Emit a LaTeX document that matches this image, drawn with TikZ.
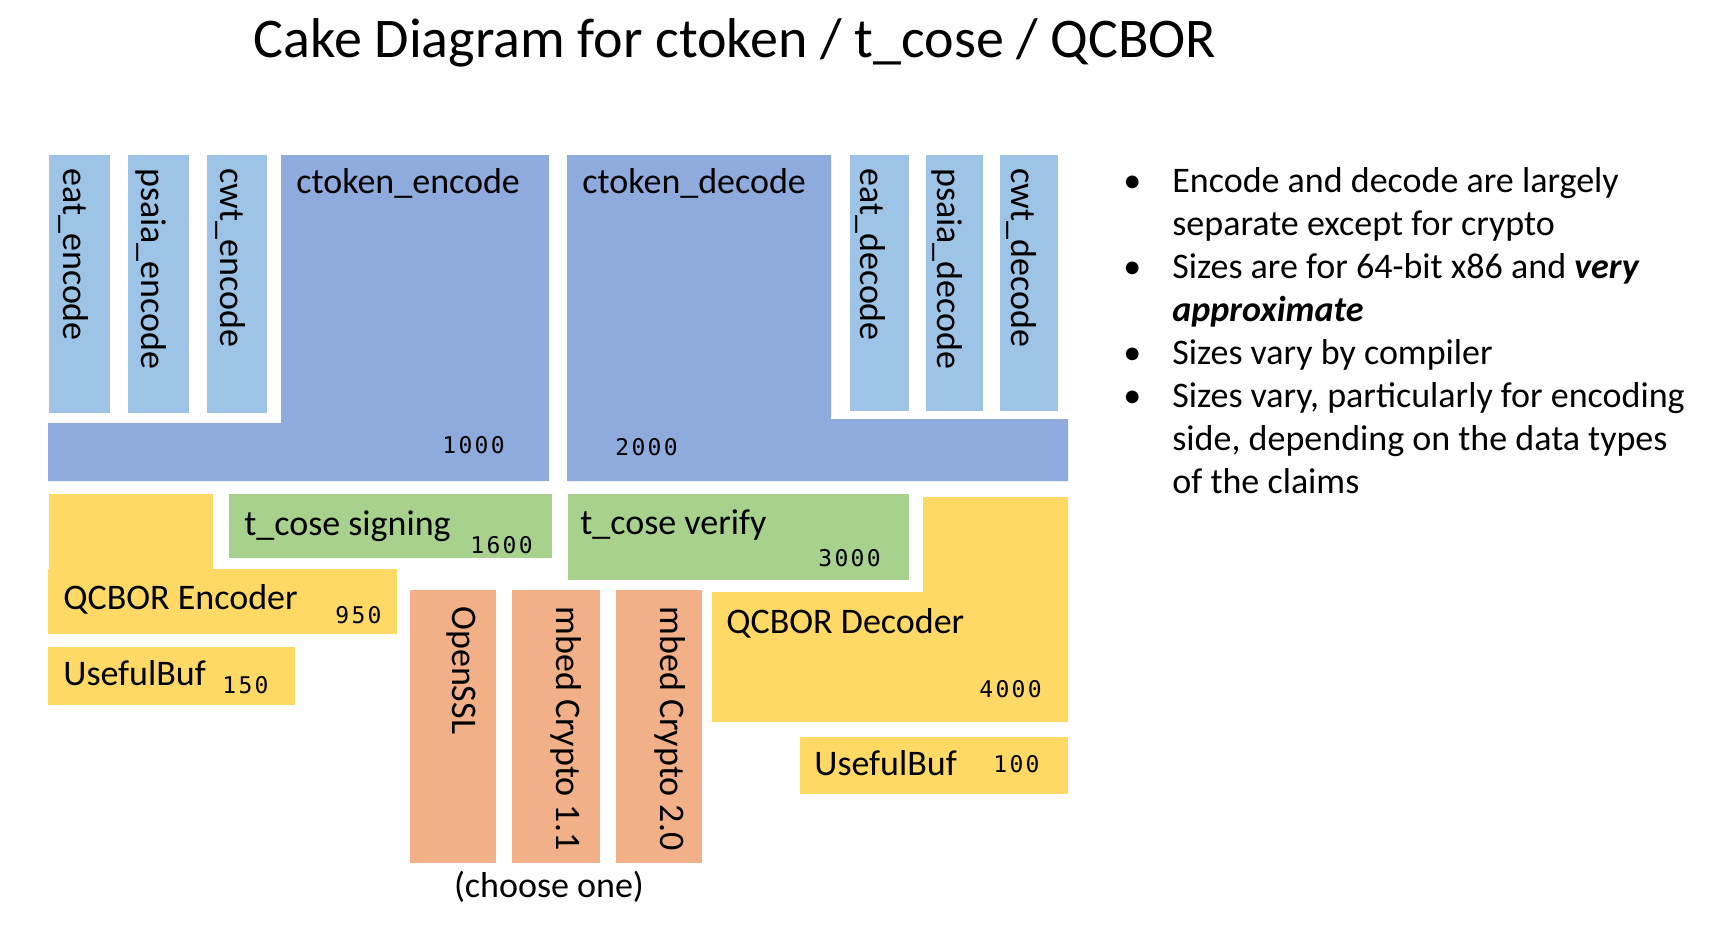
\documentclass[tikz,border=0pt]{standalone}
\usepackage{fontspec}
\setmainfont{Carlito}
\newfontfamily\numfont[LetterSpace=10]{DejaVu Sans Mono}
\usepackage{tikz}
\usepackage{xcolor}
\definecolor{tokenblue}{RGB}{143,170,220}
\definecolor{claimblue}{RGB}{157,195,230}
\definecolor{cborgold}{RGB}{255,217,102}
\definecolor{cosegreen}{RGB}{169,209,142}
\definecolor{cryptopink}{RGB}{241,176,136}

\begin{document}
\begin{tikzpicture}[x=0.5pt,y=-0.5pt,
    lab/.style={anchor=base west,inner sep=0pt,font=\fontsize{18}{21.6}\selectfont},
    vlab/.style={lab,rotate=-90},
    num/.style={anchor=base west,inner sep=0pt,font=\numfont\fontsize{11.5}{14}\selectfont}]
  \useasboundingbox (0,0) rectangle (1712,934);

  % Title
  \node[anchor=base,inner sep=0pt,font=\fontsize{28}{33}\selectfont] (title) at (735,57) {Cake Diagram for ctoken / t\_cose / QCBOR};

  % ctoken encode side
  \fill[tokenblue] (281,155) -- (549,155) -- (549,481) -- (48,481) -- (48,423) -- (281,423) -- cycle;
  \fill[claimblue] (49,155) rectangle (110,413);
  \fill[claimblue] (128,155) rectangle (189,413);
  \fill[claimblue] (207,155) rectangle (267,413);
  \node[vlab] (eatenc) at (63,168) {eat\_encode};
  \node[vlab] (psaiaenc) at (141,168) {psaia\_encode};
  \node[vlab] (cwtenc) at (220,168) {cwt\_encode};
  \node[lab] (tokenenc) at (296,193) {ctoken\_encode};
  \node[num] (tokenencsize) at (442,453) {1000};

  % ctoken decode side
  \fill[tokenblue] (567,155) -- (831,155) -- (831,419) -- (1068,419) -- (1068,481) -- (567,481) -- cycle;
  \fill[claimblue] (850,155) rectangle (909,411);
  \fill[claimblue] (926,155) rectangle (983,411);
  \fill[claimblue] (1000,155) rectangle (1058,411);
  \node[vlab] (eatdec) at (860,168) {eat\_decode};
  \node[vlab] (psaiadec) at (937,168) {psaia\_decode};
  \node[vlab] (cwtdec) at (1011,168) {cwt\_decode};
  \node[lab] (tokendec) at (582,193) {ctoken\_decode};
  \node[num] (tokendecsize) at (615,455) {2000};

  % t_cose layer
  \fill[cosegreen] (229,494) rectangle (552,558);
  \node[lab] (sign) at (244,535) {t\_cose signing};
  \node[num] (signsize) at (470,553) {1600};
  \fill[cosegreen] (568,494) rectangle (909,580);
  \node[lab] (verify) at (580,534) {t\_cose verify};
  \node[num] (verifysize) at (818,566) {3000};

  % QCBOR encoder and UsefulBuf
  \fill[cborgold] (49,494) -- (213,494) -- (213,569) -- (397,569) -- (397,634) -- (48,634) -- (48,569) -- (49,569) -- cycle;
  \node[lab] (qenc) at (63,609) {QCBOR Encoder};
  \node[num] (qencsize) at (335,623) {950};
  \fill[cborgold] (48,647) rectangle (295,705);
  \node[lab] (ubufenc) at (63,685) {UsefulBuf};
  \node[num] (ubufencsize) at (222,693) {150};

  % QCBOR decoder and UsefulBuf
  \fill[cborgold] (923,497) -- (1068,497) -- (1068,722) -- (712,722) -- (712,592) -- (923,592) -- cycle;
  \node[lab] (qdec) at (726,633) {QCBOR Decoder};
  \node[num] (qdecsize) at (979,697) {4000};
  \fill[cborgold] (800,737) rectangle (1068,794);
  \node[lab] (ubufdec) at (814,775) {UsefulBuf};
  \node[num] (ubufdecsize) at (993,772) {100};

  % crypto libraries
  \fill[cryptopink] (410,590) rectangle (496,863);
  \fill[cryptopink] (512,590) rectangle (600,863);
  \fill[cryptopink] (616,590) rectangle (702,863);
  \node[vlab] (openssl) at (452,606) {OpenSSL};
  \node[vlab] (mbedone) at (556,606) {mbed Crypto 1.1};
  \node[vlab] (mbedtwo) at (660,606) {mbed Crypto 2.0};
  \node[lab,anchor=base] (choose) at (549,897) {(choose one)};

  % Notes
  \node[lab] (dotA) at (1123,192) {•};
  \node[lab] (noteA) at (1172,192) {Encode and decode are largely};
  \node[lab] (noteAb) at (1172,235) {separate except for crypto};
  \node[lab] (dotB) at (1123,278) {•};
  \node[lab] (noteB) at (1172,278) {Sizes are for 64-bit x86 and \textbf{\textit{very}}};
  \node[lab] (noteBb) at (1172,321) {\textbf{\textit{approximate}}};
  \node[lab] (dotC) at (1123,364) {•};
  \node[lab] (noteC) at (1172,364) {Sizes vary by compiler};
  \node[lab] (dotD) at (1123,407) {•};
  \node[lab] (noteD) at (1172,407) {Sizes vary, particularly for encoding};
  \node[lab] (noteDb) at (1172,450) {side, depending on the data types};
  \node[lab] (noteDc) at (1172,493) {of the claims};
\end{tikzpicture}
\end{document}
